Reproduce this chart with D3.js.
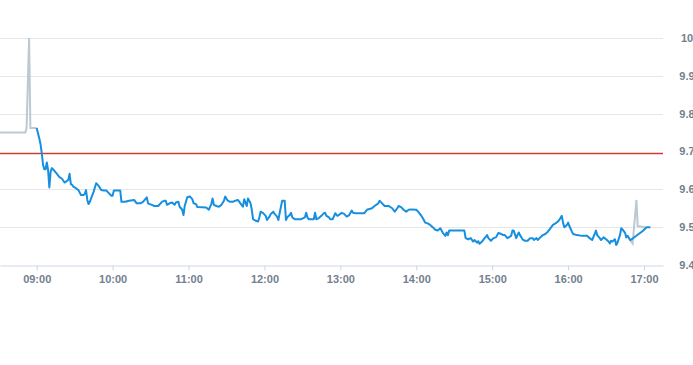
<!DOCTYPE html>
<html>
<head>
<meta charset="utf-8">
<style>
  body { margin: 0; background: #fff; }
  svg { display: block; font-family: "Liberation Sans", Arial, sans-serif; }
</style>
</head>
<body>
<svg id="mysvg"></svg>
<script src="https://d3js.org/d3.v7.min.js"></script>
<script>
// pre-open auction (grey)
var preTimes  = ["08:31","08:51","08:52","08:54","08:55","09:00"];
var preValues = [9.75, 9.75, 9.762, 10.0, 9.762, 9.762];

// continuous trading (blue)
var mainTimes = ["09:00","09:02","09:03","09:04","09:05","09:06","09:07","09:08","09:09","09:10","09:11","09:12","09:14","09:16","09:18","09:20","09:22","09:23","09:25","09:26","09:27","09:28","09:29","09:31","09:33","09:35","09:37","09:38","09:39","09:40","09:41","09:42","09:45","09:47","09:49","09:51","09:53","09:55","09:57","09:59",
"10:00","10:01","10:06","10:07","10:10","10:13","10:17","10:19","10:22","10:24","10:27","10:28","10:31","10:33","10:36","10:39","10:41","10:42","10:43","10:45","10:47","10:49","10:50","10:52","10:53","10:55","10:56","10:57","10:59",
"11:01","11:03","11:04","11:06","11:07","11:14","11:16","11:18","11:19","11:20","11:22","11:24","11:26","11:28","11:29","11:31","11:33","11:35","11:37","11:39","11:41","11:43","11:44","11:46","11:47","11:49","11:50","11:51","11:53","11:55","11:56","11:57","11:59",
"12:01","12:02","12:04","12:05","12:07","12:08","12:10","12:11","12:12","12:14","12:16","12:17","12:18","12:20","12:21","12:22","12:24","12:29","12:32","12:33","12:34","12:35","12:39","12:40","12:41","12:43","12:45","12:47","12:48","12:49","12:51","12:52","12:54","12:56","12:57","12:58",
"13:00","13:01","13:03","13:05","13:07","13:09","13:10","13:12","13:19","13:21","13:23","13:25","13:27","13:30","13:31","13:33","13:35","13:38","13:41","13:43","13:45","13:46","13:48","13:50","13:52","13:54","13:56",
"14:00","14:02","14:04","14:06","14:07","14:09","14:11","14:13","14:15","14:17","14:19","14:20","14:21","14:23","14:24","14:25","14:26","14:38","14:39","14:41","14:43","14:45","14:46","14:48","14:49","14:50","14:52","14:54","14:56","14:57","14:59",
"15:01","15:03","15:05","15:07","15:09","15:10","15:12","15:15","15:16","15:17","15:19","15:20","15:21","15:22","15:24","15:26","15:28","15:30","15:32","15:33","15:35","15:36","15:38","15:40","15:42","15:44","15:46","15:48","15:50","15:52","15:53","15:55","15:56","15:57","15:59",
"16:00","16:01","16:03","16:04","16:07","16:11","16:15","16:17","16:19","16:21","16:22","16:23","16:25","16:26","16:28","16:30","16:32","16:33","16:34","16:35","16:37","16:38","16:39","16:41","16:42","16:43","16:45","16:46","16:47","16:49","16:51","16:59","17:02","17:05"];
var mainValues = [9.762,9.735,9.72,9.696,9.665,9.653,9.653,9.671,9.651,9.605,9.647,9.656,9.649,9.641,9.632,9.628,9.618,9.62,9.625,9.641,9.614,9.612,9.607,9.603,9.598,9.585,9.585,9.588,9.598,9.572,9.561,9.567,9.594,9.616,9.609,9.598,9.597,9.597,9.59,9.583,
9.583,9.597,9.597,9.567,9.567,9.57,9.572,9.563,9.563,9.567,9.579,9.563,9.559,9.556,9.556,9.567,9.57,9.57,9.559,9.563,9.565,9.559,9.565,9.567,9.554,9.546,9.532,9.556,9.579,
9.581,9.574,9.563,9.561,9.553,9.552,9.546,9.561,9.576,9.559,9.556,9.554,9.559,9.57,9.581,9.57,9.567,9.567,9.57,9.572,9.563,9.554,9.574,9.556,9.576,9.563,9.546,9.521,9.517,9.515,9.526,9.541,9.537,
9.53,9.519,9.528,9.535,9.541,9.535,9.528,9.519,9.537,9.57,9.57,9.519,9.526,9.532,9.538,9.526,9.521,9.521,9.526,9.538,9.526,9.521,9.521,9.538,9.521,9.524,9.53,9.537,9.538,9.53,9.526,9.521,9.521,9.537,9.532,9.53,
9.535,9.538,9.535,9.528,9.532,9.544,9.538,9.537,9.537,9.546,9.548,9.55,9.556,9.563,9.57,9.563,9.556,9.556,9.55,9.541,9.55,9.556,9.553,9.546,9.541,9.546,9.547,
9.546,9.539,9.53,9.519,9.512,9.51,9.506,9.5,9.493,9.491,9.497,9.491,9.485,9.477,9.486,9.479,9.491,9.491,9.471,9.468,9.471,9.462,9.466,9.459,9.463,9.456,9.462,9.471,9.479,9.471,9.464,
9.471,9.473,9.485,9.482,9.479,9.479,9.471,9.477,9.491,9.491,9.471,9.479,9.486,9.479,9.468,9.464,9.464,9.471,9.471,9.466,9.471,9.466,9.473,9.479,9.482,9.488,9.497,9.506,9.51,9.515,9.519,9.53,9.512,9.5,9.506,
9.512,9.503,9.488,9.482,9.479,9.477,9.477,9.471,9.466,9.482,9.491,9.479,9.471,9.466,9.473,9.468,9.462,9.457,9.464,9.462,9.468,9.453,9.459,9.479,9.497,9.494,9.485,9.473,9.477,9.466,9.47,9.49,9.5,9.5];

// closing auction (grey)
var postTimes  = ["16:49","16:51","16:54","16:55","17:01"];
var postValues = [9.466, 9.457, 9.572, 9.503, 9.5];

var prevClose = 9.695;
var yTicks = [9.4, 9.5, 9.6, 9.7, 9.8, 9.9, 10.0];

var width = 693, height = 365;
var plotRight = 663, plotTop = 38, plotBottom = 265;
var labelColor = "#72808f";

var parseT = d3.timeParse("%H:%M");
function zipSeries(times, values) {
  return times.map(function(t, i) { return [parseT(t), values[i]]; });
}

var svg = d3.select("#mysvg").attr("width", width).attr("height", height);

var xScale = d3.scaleTime()
  .domain([parseT("08:31"), parseT("17:15")])
  .range([0, plotRight]);
var yScale = d3.scaleLinear()
  .domain([9.4, 10.0])
  .range([plotBottom, plotTop]);

// horizontal grid
svg.append("g").selectAll("line")
  .data(yTicks.filter(function(d) { return d > 9.4; }))
  .join("line")
  .attr("x1", 0).attr("x2", plotRight)
  .attr("y1", function(d) { return Math.round(yScale(d)) + 0.5; })
  .attr("y2", function(d) { return Math.round(yScale(d)) + 0.5; })
  .attr("stroke", "#e6e6e6");

// y labels on the right (cut by the frame, like the original)
svg.append("g").selectAll("text")
  .data(yTicks)
  .join("text")
  .attr("x", 687)
  .attr("y", function(d) { return yScale(d); })
  .attr("dy", "0.35em")
  .attr("text-anchor", "middle")
  .attr("font-size", 11)
  .attr("font-weight", "bold")
  .attr("fill", labelColor)
  .text(function(d) { return d === 10 ? "10" : d3.format(".1f")(d); });

// x axis
var xAxis = d3.axisBottom(xScale)
  .ticks(d3.timeHour.every(1))
  .tickFormat(d3.timeFormat("%H:%M"))
  .tickSize(5)
  .tickSizeOuter(0)
  .tickPadding(5);
var gx = svg.append("g")
  .attr("transform", "translate(0," + (plotBottom + 0.5) + ")")
  .call(xAxis);
gx.select(".domain").attr("stroke", "#ccd6eb");
gx.selectAll(".tick line").attr("stroke", "#ccd6eb");
gx.selectAll(".tick text")
  .attr("font-size", 11)
  .attr("font-weight", "bold")
  .attr("font-family", "Liberation Sans, Arial, sans-serif")
  .attr("fill", labelColor);

var line = d3.line()
  .x(function(d) { return xScale(d[0]); })
  .y(function(d) { return yScale(d[1]); });

// grey auctions
[zipSeries(preTimes, preValues), zipSeries(postTimes, postValues)].forEach(function(s) {
  svg.append("path")
    .attr("d", line(s))
    .attr("fill", "none")
    .attr("stroke", "#bcc8d2")
    .attr("stroke-width", 2);
});

// previous close: soft band + red core
var yPrev = Math.round(yScale(prevClose)) + 0.5;
svg.append("line")
  .attr("x1", 0).attr("x2", plotRight)
  .attr("y1", yPrev).attr("y2", yPrev)
  .attr("stroke", "#f4cfcb")
  .attr("stroke-width", 3);
svg.append("line")
  .attr("x1", 0).attr("x2", plotRight)
  .attr("y1", yPrev).attr("y2", yPrev)
  .attr("stroke", "#cf3a2f")
  .attr("stroke-width", 1);

// main session
svg.append("path")
  .attr("d", line(zipSeries(mainTimes, mainValues)))
  .attr("fill", "none")
  .attr("stroke", "#168fe0")
  .attr("stroke-width", 2)
  .attr("stroke-linejoin", "round");
</script>
</body>
</html>
